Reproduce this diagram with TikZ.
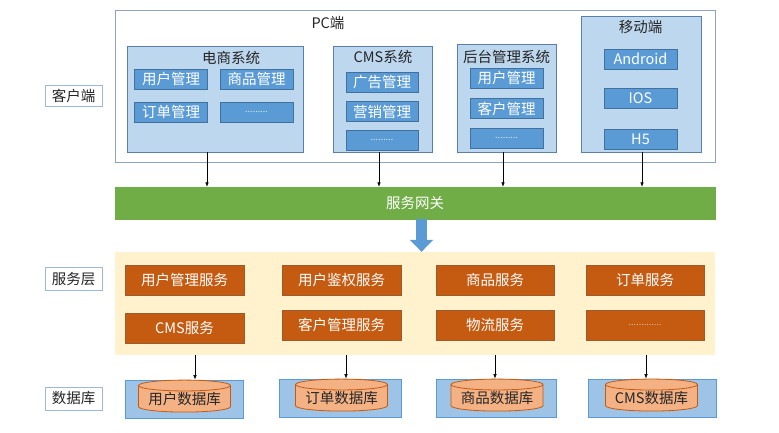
\documentclass[tikz,border=0pt]{standalone}
\usepackage{fontspec}
\setmainfont{Noto Sans CJK SC}
\usetikzlibrary{arrows.meta,positioning,shapes.geometric}
\definecolor{ink}{HTML}{262626}
\definecolor{tagline}{HTML}{9DB7D5}
\definecolor{frameline}{HTML}{8EA4BE}
\definecolor{grpline}{HTML}{5B7FA6}
\definecolor{grpfill}{HTML}{BDD7EE}
\definecolor{modline}{HTML}{41719C}
\definecolor{modfill}{HTML}{5B9BD5}
\definecolor{gwfill}{HTML}{70AD47}
\definecolor{svcbg}{HTML}{FFF2CC}
\definecolor{svcfill}{HTML}{C55A11}
\definecolor{svcline}{HTML}{9C5B2E}
\definecolor{dbfill}{HTML}{9DC3E6}
\definecolor{dbline}{HTML}{5B9BD5}
\definecolor{cylfill}{HTML}{F4B183}
\definecolor{cylline}{HTML}{C55A11}
\definecolor{bigarrow}{HTML}{5B9BD5}
\tikzset{
  every node/.style={font=\fontsize{14.5}{16}\selectfont, text=ink},
  tag/.style={draw=tagline, line width=0.8pt, fill=white, minimum width=57pt,
              minimum height=21pt, inner sep=0pt},
  frame/.style={draw=frameline, line width=0.8pt, inner sep=0pt},
  grp/.style={draw=grpline, line width=0.8pt, fill=grpfill, inner sep=0pt},
  mod/.style={draw=modline, line width=0.6pt, fill=modfill, text=white,
              minimum width=73pt, minimum height=20pt, inner sep=0pt},
  svc/.style={draw=svcline, line width=0.8pt, fill=svcfill, text=white,
              minimum width=119pt, minimum height=30pt, inner sep=0pt},
  dbbox/.style={draw=dbline, line width=0.8pt, fill=dbfill, minimum height=38pt, inner sep=0pt},
  db/.style={cylinder, shape border rotate=90, aspect=0.15, draw=cylline, line width=0.8pt,
             fill=cylfill, minimum width=92pt, minimum height=32pt, inner sep=0pt},
  arr/.style={-{Latex[length=4.5pt, width=3.5pt]}, line width=0.6pt, draw=black},
  dots/.style={font=\fontsize{9}{10}\selectfont},
}

\begin{document}
\begin{tikzpicture}[x=1pt, y=-1pt]
\useasboundingbox (0,0) rectangle (779,432);

% client side
\node[frame, minimum width=600pt, minimum height=152pt] (pc) at (415,86) {};
\node (pctitle) at (328,23) {PC端};
\node[tag] (client) at (73.5,96) {客户端};

\node[grp, minimum width=176pt, minimum height=106pt] (ec) at (215,99) {};
\node (ectitle) at (231,58) {电商系统};
\node[mod] (ecuser) at (171,79) {用户管理};
\node[mod] (ecgoods) at (256.5,79) {商品管理};
\node[mod] (ecorder) at (171,112) {订单管理};
\node[mod, dots, text=white!80!modfill] (ecmore) at (256.5,112) {.........};

\node[grp, minimum width=99pt, minimum height=106pt] (cms) at (382.5,99) {};
\node (cmstitle) at (383,57) {CMS系统};
\node[mod, minimum width=72pt] (cmsad) at (382,82) {广告管理};
\node[mod, minimum width=72pt, below=9pt of cmsad] (cmsmkt) {营销管理};
\node[mod, minimum width=72pt, dots, text=white!80!modfill, below=8pt of cmsmkt] (cmsmore) {.........};

\node[grp, minimum width=99pt, minimum height=108pt] (bg) at (506.5,98) {};
\node (bgtitle) at (506.5,57) {后台管理系统};
\node[mod] (bguser) at (506.5,78) {用户管理};
\node[mod, below=10pt of bguser] (bgcust) {客户管理};
\node[mod, dots, text=white!80!modfill, below=9pt of bgcust] (bgmore) {.........};

\node[grp, minimum width=120pt, minimum height=136pt] (mob) at (641,84) {};
\node (mobtitle) at (640.5,27) {移动端};
\node[mod] (android) at (640.5,59) {Android};
\node[mod, below=19pt of android] (ios) {IOS};
\node[mod, below=20pt of ios] (hfive) {H5};

% gateway
\node[draw=gwfill, fill=gwfill, text=white, minimum width=600pt, minimum height=32pt,
      inner sep=0pt] (gw) at (415,203) {服务网关};

\draw[arr] ([xshift=-8pt]ec.south) -- ([xshift=-8pt]ec.south |- gw.north);
\draw[arr] ([xshift=-3.5pt]cms.south) -- ([xshift=-3.5pt]cms.south |- gw.north);
\draw[arr] ([xshift=-3.5pt]bg.south) -- ([xshift=-3.5pt]bg.south |- gw.north);
\draw[arr] ([xshift=1pt]mob.south) -- ([xshift=1pt]mob.south |- gw.north);

% service layer
\node[fill=svcbg, minimum width=600pt, minimum height=103pt, inner sep=0pt] (svcarea) at (415,303.5) {};
\node[tag, minimum height=23pt] (svclayer) at (73.5,279) {服务层};

\draw[bigarrow, line width=11pt, -{Triangle[width=23pt, length=12pt]}]
  ([xshift=6.5pt]gw.south) -- ([xshift=6.5pt]gw.south |- svcarea.north);

\node[svc] (usersvc) at (184.5,280) {用户管理服务};
\node[svc] (authsvc) at (341.5,280) {用户鉴权服务};
\node[svc, minimum width=118pt] (goodssvc) at (495,280) {商品服务};
\node[svc, minimum width=118pt] (ordersvc) at (645,280) {订单服务};
\node[svc] (cmssvc) at (184.5,328) {CMS服务};
\node[svc] (custsvc) at (341.5,325) {客户管理服务};
\node[svc, minimum width=118pt] (logsvc) at (495,325) {物流服务};
\node[svc, minimum width=118pt, dots, text=white!60!svcfill] (moresvc) at (645,325) {.............};

% databases
\node[tag, minimum height=23pt] (dblayer) at (73.5,398.5) {数据库};

\node[dbbox, minimum width=118pt] (dbone) at (184,399) {};
\node[dbbox, minimum width=122pt] (dbtwo) at (340,398) {};
\node[dbbox, minimum width=120pt] (dbthree) at (496,398) {};
\node[dbbox, minimum width=128pt] (dbfour) at (652,398) {};

\node[db] (userdb) at (184.5,399) {用户数据库};
\node[db] (orderdb) at (341.5,398) {订单数据库};
\node[db] (goodsdb) at (497,398) {商品数据库};
\node[db] (cmsdb) at (651.5,398) {CMS数据库};

\draw[arr] ([xshift=11pt]dbone.north |- svcarea.south) -- ([xshift=11pt]dbone.north);
\draw[arr] ([xshift=6pt]dbtwo.north |- svcarea.south) -- ([xshift=6pt]dbtwo.north);
\draw[arr] ([xshift=-1pt]dbthree.north |- svcarea.south) -- ([xshift=-1pt]dbthree.north);
\draw[arr] ([xshift=-6pt]dbfour.north |- svcarea.south) -- ([xshift=-6pt]dbfour.north);

\end{tikzpicture}
\end{document}
